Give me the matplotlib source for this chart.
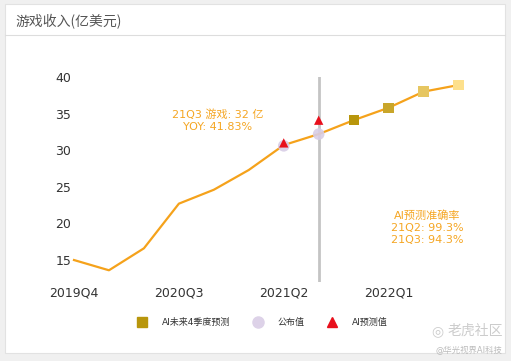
import matplotlib
matplotlib.use("Agg")
import matplotlib.pyplot as plt
from matplotlib.patches import Rectangle
from matplotlib.lines import Line2D

quarters = ['2019Q4', '2020Q1', '2020Q2', '2020Q3', '2020Q4', '2021Q1',
            '2021Q2', '2021Q3', '2021Q4', '2022Q1', '2022Q2', '2022Q3']
revenue = [15.0, 13.6, 16.6, 22.7, 24.6, 27.3, 30.7, 32.2, 34.1, 35.8, 38.0, 38.9]
published_q = ['2021Q2', '2021Q3']
published_v = [30.6, 32.2]
ai_pred_q = ['2021Q2', '2021Q3']
ai_pred_v = [31.0, 34.1]
forecast_q = ['2021Q4', '2022Q1', '2022Q2', '2022Q3']
forecast_v = [34.1, 35.8, 38.0, 38.9]
forecast_colors = ['#b8960c', '#c9a62a', '#e6c661', '#fde08c']
xtick_labels = ['2019Q4', '2020Q3', '2021Q2', '2022Q1']
yticks = [15, 20, 25, 30, 35, 40]

CJK = ['DejaVu Sans', 'Noto Sans CJK SC']
W, H = 511, 361
fig = plt.figure(figsize=(W / 100, H / 100), dpi=100)
fig.patch.set_facecolor('#f0f0f0')

# card
fig.patches.append(Rectangle((5 / W, (H - 353) / H), 500 / W, 349 / H,
                             transform=fig.transFigure, facecolor='white',
                             edgecolor='#e2e2e2', lw=0.8, zorder=-2))
fig.lines.append(Line2D([5 / W, 505 / W], [(H - 35) / H] * 2,
                        transform=fig.transFigure, color='#dddddd', lw=0.8,
                        zorder=-1))
fig.text(15 / W, (H - 22) / H, '游戏收入(亿美元)', family=['Noto Sans CJK SC'],
         fontsize=10, color='#555555', va='center', ha='left')

idx = {q: i for i, q in enumerate(quarters)}
ax = fig.add_axes([74 / W, (H - 282) / H, 402 / W, 205 / H])
ax.set_zorder(1)
ax.set_facecolor('none')
ax.set_xlim(0, 11.5)
ax.set_ylim(12, 40)
for s in ax.spines.values():
    s.set_visible(False)

x = list(range(len(quarters)))
ax.axvline(idx['2021Q3'], color='#c4c4c4', lw=2, zorder=1)
ax.plot(x, revenue, color='#f5a21b', lw=1.6, zorder=2, clip_on=False)
ax.scatter([idx[q] for q in published_q], published_v, s=70, color='#d8cde6',
           zorder=3, edgecolors='none', alpha=0.9)
ax.scatter([idx[q] for q in ai_pred_q], ai_pred_v, s=45, marker='^',
           color='#e8101c', zorder=4, edgecolors='none')
ax.scatter([idx[q] for q in forecast_q], forecast_v, s=55, marker='s',
           color=forecast_colors, zorder=4, edgecolors='none', clip_on=False)

ax.set_yticks(yticks)
ax.set_xticks([idx[q] for q in xtick_labels])
ax.set_xticklabels(xtick_labels)
ax.tick_params(length=0, labelsize=9, labelcolor='#333333')
ax.tick_params(axis='y', pad=2)
ax.tick_params(axis='x', pad=3)

ax.text(4.1, 34.0, '21Q3 游戏: 32 亿\nYOY: 41.83%', family=CJK, fontsize=8,
        color='#f5a623', ha='center', va='center', linespacing=1.2)
ax.text(10.1, 19.4, 'AI预测准确率\n21Q2: 99.3%\n21Q3: 94.3%', family=CJK,
        fontsize=8, color='#f5a623', ha='center', va='center', linespacing=1.25)

# legend
ly = (H - 322) / H
fig.lines.append(Line2D([142 / W], [ly], transform=fig.transFigure, marker='s',
                        ms=7, color='#b8960c', ls='none'))
fig.text(162 / W, ly, 'AI未来4季度预测', family=CJK, fontsize=6.5,
         color='#333333', va='center')
fig.lines.append(Line2D([258 / W], [ly], transform=fig.transFigure, marker='o',
                        ms=8, color='#ddd2e8', ls='none'))
fig.text(278 / W, ly, '公布值', family=CJK, fontsize=6.5, color='#333333',
         va='center')
fig.lines.append(Line2D([332 / W], [ly], transform=fig.transFigure, marker='^',
                        ms=7, color='#e8101c', ls='none'))
fig.text(352 / W, ly, 'AI预测值', family=CJK, fontsize=6.5, color='#333333',
         va='center')

# watermark
fig.text(437 / W, (H - 331) / H, '◎', fontsize=10, color='#cccccc',
         ha='center', va='center')
fig.text(448 / W, (H - 331) / H, '老虎社区', family=CJK, fontsize=10,
         color='#cccccc', va='center')
fig.text(502 / W, (H - 350) / H, '@华光视界AI科技', family=CJK, fontsize=6,
         color='#bbbbbb', va='center', ha='right')

fig.savefig('out.png', dpi=100)
